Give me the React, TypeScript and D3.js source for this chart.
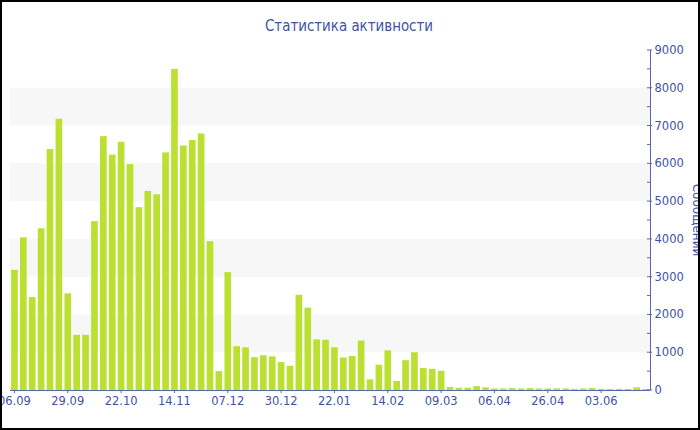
import React from "react";
import * as d3 from "d3";

const title = "Статистика активности";
const yAxisTitle = "Сообщений";

const values: number[] = [
  3180, 4040, 2460, 4280, 6380, 7180, 2560, 1460, 1460, 4470,
  6720, 6230, 6570, 5980, 4840, 5270, 5180, 6290, 8500, 6470,
  6620, 6790, 3940, 500, 3120, 1160, 1130, 870, 920, 890,
  740, 640, 2520, 2180, 1340, 1330, 1130, 860, 900, 1310,
  280, 670, 1050, 240, 790, 1000, 580, 560, 510, 80,
  60, 60, 100, 70, 40, 40, 50, 40, 50, 40,
  40, 40, 40, 30, 40, 50, 30, 30, 30, 30, 70, 30,
];

const xTickLabels: string[] = [
  "06.09", "29.09", "22.10", "14.11", "07.12", "30.12",
  "22.01", "14.02", "09.03", "06.04", "26.04", "03.06",
];
const xTickEvery = 6;

const yTicks: number[] = [0, 1000, 2000, 3000, 4000, 5000, 6000, 7000, 8000, 9000];
const yMax = 9000;

const W = 700;
const H = 430;
const plot = { left: 10, right: 650, top: 50, bottom: 390 };

const textColor = "#3f53a2";
const axisColor = "#5467b0";
const barColor = "#bce032";
const bandColor = "#f7f7f7";
const font = "'DejaVu Sans', Verdana, sans-serif";

export default function App() {
  const x = d3
    .scaleBand<number>()
    .domain(values.map((_, i) => i))
    .range([plot.left, plot.right])
    .paddingInner(0.25)
    .paddingOuter(0.125);
  const y = d3.scaleLinear().domain([0, yMax]).range([plot.bottom, plot.top]);

  const bands = yTicks.filter((t) => t < yMax && (t / 1000) % 2 === 1);
  const minor = d3.range(500, yMax, 1000);

  return (
    <svg
      width={W}
      height={H}
      style={{ position: "absolute", left: 0, top: 0, background: "#fff" }}
      fontFamily={font}
    >
      <rect x={0} y={0} width={W} height={H} fill="#fff" />
      {bands.map((b) => (
        <rect
          key={b}
          x={plot.left}
          width={plot.right - plot.left}
          y={y(b + 1000)}
          height={y(b) - y(b + 1000)}
          fill={bandColor}
        />
      ))}
      {values.map((v, i) => (
        <rect
          key={i}
          x={x(i)!}
          width={x.bandwidth()}
          y={y(v)}
          height={plot.bottom - y(v)}
          fill={barColor}
        />
      ))}
      {/* x axis */}
      <line x1={plot.left} x2={plot.right} y1={plot.bottom + 0.5} y2={plot.bottom + 0.5} stroke={axisColor} strokeWidth={1} />
      {xTickLabels.map((lab, k) => {
        const cx = x(k * xTickEvery)! + x.bandwidth() / 2;
        return (
          <g key={lab}>
            <line x1={cx} x2={cx} y1={plot.bottom} y2={plot.bottom + 3} stroke={axisColor} />
            <text x={cx} y={405} textAnchor="middle" fontSize={11.5} fill={textColor}>
              {lab}
            </text>
          </g>
        );
      })}
      {/* y axis right */}
      <line x1={plot.right + 0.5} x2={plot.right + 0.5} y1={plot.top} y2={plot.bottom} stroke={axisColor} />
      {yTicks.map((t) => (
        <g key={t}>
          <line x1={plot.right - 3} x2={plot.right + 2} y1={y(t)} y2={y(t)} stroke={axisColor} />
          <text x={654.5} y={y(t) + 4} fontSize={11.5} fill={textColor}>
            {t}
          </text>
        </g>
      ))}
      {minor.map((t) => (
        <line key={t} x1={plot.right - 3} x2={plot.right} y1={y(t)} y2={y(t)} stroke={axisColor} />
      ))}
      <text
        transform={`translate(692.5, 220) rotate(90)`}
        textAnchor="middle"
        fontSize={12}
        fill={textColor}
      >
        {yAxisTitle}
      </text>
      <text
        x={349}
        y={31}
        textAnchor="middle"
        fontSize={16.5}
        fill={textColor}
        textLength={168}
        lengthAdjust="spacingAndGlyphs"
      >
        {title}
      </text>
      <rect x={1} y={1} width={W - 2} height={H - 2} fill="none" stroke="#000" strokeWidth={2} />
    </svg>
  );
}
